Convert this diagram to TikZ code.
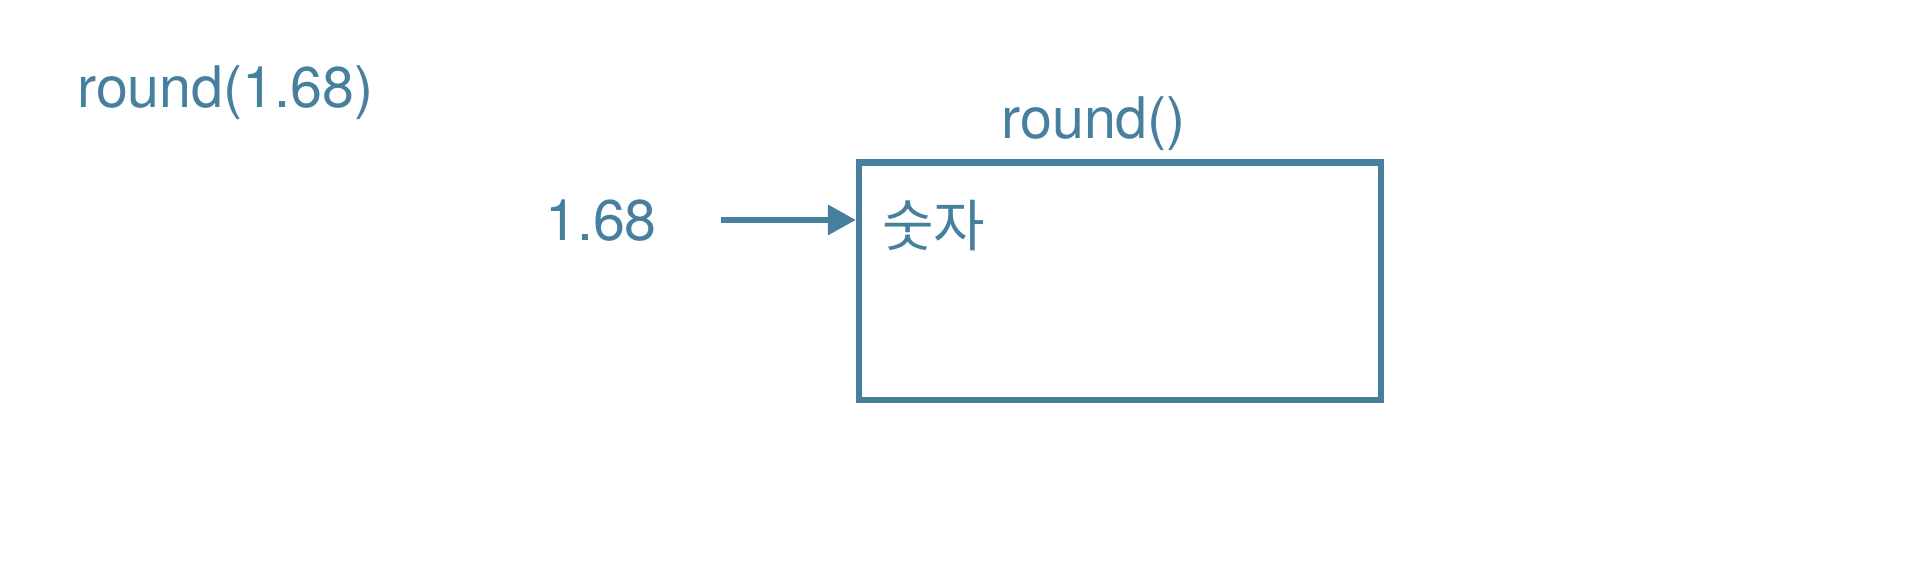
\documentclass[tikz,border=0pt]{standalone}
\usepackage{fontspec}
\setmainfont{TeX Gyre Heros}
\newfontfamily\kofont{Noto Sans CJK KR}
\usetikzlibrary{arrows.meta}
\definecolor{steel}{RGB}{70,128,158}
\tikzset{
  lbl/.style={inner sep=0pt, anchor=base west, text=steel, font=\fontsize{57.4bp}{60bp}\selectfont},
  boxnode/.style={draw=steel, line width=6.1bp, minimum width=521.8bp, minimum height=237bp, inner sep=0pt},
  conn/.style={draw=steel, line width=6.1bp, -{Triangle[length=28bp,width=29bp]}}
}
\begin{document}
\begin{tikzpicture}[x=1.2219bp,y=-1.2219bp]
\useasboundingbox (0,0) rectangle (1568,458.3);
\node[lbl] (call) at (63,88) {round(1.68)};
\node[lbl, anchor=base] (fname) at (895,113) {round()};
\node[boxnode] (box) at (916.5,230) {};
\node[lbl] (num) at (446,197) {1.68};
\node[lbl, font=\kofont\fontsize{56bp}{60bp}\selectfont] (param) at (722,201.5) {숫자};
\coordinate (start) at (590,180);
\draw[conn] (start) -- (box.west |- start);
\end{tikzpicture}
\end{document}
